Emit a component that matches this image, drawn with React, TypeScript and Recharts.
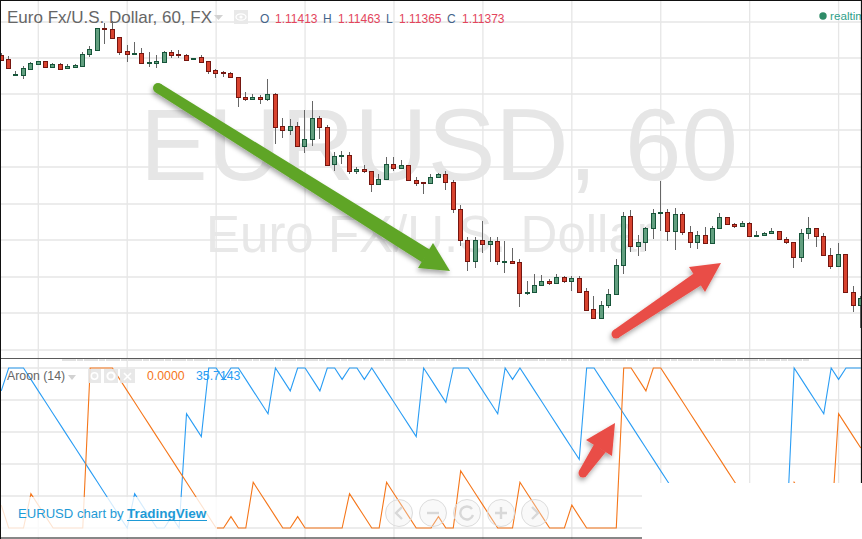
import React from "react";
import { ComposedChart, Bar, Line, XAxis, YAxis, CartesianGrid } from "recharts";

// Prices are in chart points counted downward from the top of the price pane
const opens = [55,59,74,75,69,64,61,67,64,68,67,66,54,50,28,29,37,51,54,53,63,63,62,52,54,55,59,57,61,70,72,73,77,97,99,97,99,94,126,130,126,146,139,118,127,164,156,155,171,169,171,184,179,164,168,165,180,182,183,177,174,182,209,240,261,240,244,241,262,261,262,293,292,285,281,283,277,281,278,291,309,318,305,294,265,216,246,242,228,213,212,231,214,232,242,235,243,228,217,224,226,223,236,235,233,231,239,242,257,233,228,236,255,266,254,292,305];
const closes = [60,68,74,68,63,61,67,64,69,66,65,54,49,28,29,38,52,54,53,63,62,61,52,55,55,60,58,62,71,73,73,77,97,99,97,99,94,127,130,126,146,139,118,127,165,156,155,171,169,171,184,179,164,168,165,180,183,183,177,174,182,209,240,261,240,244,241,261,261,263,293,292,285,281,283,277,281,278,292,310,318,305,294,265,216,246,242,228,213,212,231,214,232,242,235,243,228,217,224,226,223,236,235,233,231,239,242,257,233,228,236,255,266,254,292,305,298];
const highs = [53,56,71,66,62,61,61,63,63,64,64,52,46,28,23,21,37,45,42,48,52,55,51,50,50,54,58,55,61,69,71,72,77,92,94,95,79,93,118,119,122,110,101,116,125,152,151,152,167,165,171,174,157,157,160,165,177,182,174,173,171,180,205,237,237,221,237,237,241,248,259,281,274,275,279,274,276,276,276,288,296,301,289,259,212,210,235,227,209,181,209,208,212,226,231,227,226,213,217,223,221,222,231,232,228,231,237,242,229,217,228,233,248,243,254,286,296];
const lows = [60,69,76,79,69,64,68,68,69,69,68,66,57,51,44,39,55,62,55,63,67,68,62,58,58,61,59,62,74,78,77,77,107,101,99,104,101,144,138,135,147,153,146,139,166,171,164,174,174,173,192,184,179,171,169,180,186,194,183,178,190,213,246,271,268,253,262,265,273,263,307,295,292,286,285,283,283,291,292,311,319,318,308,294,274,252,256,251,239,231,241,250,235,248,249,243,243,228,225,228,226,236,236,236,234,240,244,268,262,239,247,256,269,266,292,312,328];

const aroonUp = [85.71,100,100,100,92.86,85.71,78.57,71.43,64.29,57.14,50,42.86,35.71,28.57,21.43,14.29,7.14,0,21.43,14.29,7.14,0,0,7.14,0,71.43,64.29,57.14,100,100,92.86,100,100,92.86,85.71,78.57,71.43,100,92.86,85.71,100,100,92.86,85.71,100,100,92.86,100,100,92.86,100,92.86,85.71,78.57,71.43,64.29,57.14,100,92.86,85.71,78.57,100,100,100,92.86,85.71,78.57,71.43,100,92.86,100,92.86,85.71,78.57,71.43,64.29,57.14,50,42.86,100,100,92.86,85.71,78.57,71.43,64.29,57.14,50,42.86,35.71,28.57,21.43,14.29,7.14,0,0,0,0,0,0,0,0,0,0,0,0,0,100,92.86,85.71,78.57,71.43,100,92.86,100,100,100];
const aroonDown = [14.29,0,0,0,21.43,14.29,7.14,0,0,0,0,0,100,100,100,100,92.86,85.71,78.57,71.43,64.29,57.14,50,42.86,35.71,28.57,21.43,14.29,7.14,0,0,7.14,0,0,28.57,21.43,14.29,7.14,0,0,7.14,0,0,0,0,0,0,21.43,14.29,7.14,0,0,28.57,21.43,14.29,7.14,0,0,0,7.14,0,0,35.71,28.57,21.43,14.29,7.14,0,0,0,28.57,21.43,14.29,7.14,0,0,0,14.29,7.14,0,0,0,0,0,100,100,92.86,85.71,100,100,92.86,85.71,78.57,71.43,64.29,57.14,50,42.86,35.71,28.57,21.43,14.29,7.14,0,0,0,0,28.57,21.43,14.29,7.14,0,0,71.43,64.29,57.14,50];

const priceGrid = [22,58,94,130,167,204,240,277,313,350];
const aroonGrid = [0,20,40,60,80,100];
const timeGrid = [5,17,29,41,53,65,77,89,101,113];

const candles = opens.map((open, index) => ({
  index, open, close: closes[index], high: highs[index], low: lows[index],
  range: [highs[index], lows[index]],
}));
const aroon = aroonUp.map((up, index) => ({ index, up, down: aroonDown[index] }));

const GRID = "#e6e6e6";
const FONT = "'Liberation Sans', Arial, sans-serif";
const TIME_DOMAIN = [-0.17, 116.16];

function Candle(props: any) {
  const { x, y, width, height, payload } = props;
  if (x == null || y == null) return null;
  const top = Math.min(y, y + height);
  const span = Math.abs(height) || 1;
  const pos = (v: number) => top + ((v - payload.high) / (payload.low - payload.high || 1)) * span;
  const cx = Math.floor(x + width / 2) + 0.5;
  const up = payload.close <= payload.open;
  const bodyTop = Math.round(pos(Math.min(payload.open, payload.close))) + 0.5;
  const bodyBot = Math.round(pos(Math.max(payload.open, payload.close))) + 0.5;
  return (
    <g>
      <line x1={cx} x2={cx} y1={top} y2={top + span} stroke="#666" strokeWidth={1} />
      <rect
        x={cx - 2}
        y={bodyTop}
        width={4}
        height={Math.max(bodyBot - bodyTop, 1)}
        fill={up ? "#629f7f" : "#d8432f"}
        stroke={up ? "#17553a" : "#751610"}
        strokeWidth={1}
      />
    </g>
  );
}

function Arrow({ start, neck, tip, a, b, w0, w1, color }: any) {
  const dx = neck[0] - start[0];
  const dy = neck[1] - start[1];
  const len = Math.hypot(dx, dy);
  const nx = -dy / len;
  const ny = dx / len;
  const shaft = [
    [start[0] + (nx * w0) / 2, start[1] + (ny * w0) / 2],
    [neck[0] + (nx * w1) / 2, neck[1] + (ny * w1) / 2],
    [neck[0] - (nx * w1) / 2, neck[1] - (ny * w1) / 2],
    [start[0] - (nx * w0) / 2, start[1] - (ny * w0) / 2],
  ];
  return (
    <g filter="url(#soft)">
      <circle cx={start[0]} cy={start[1]} r={w0 / 2} fill={color} />
      <polygon points={shaft.join(" ")} fill={color} />
      <polygon points={`${tip} ${a} ${b}`} fill={color} />
    </g>
  );
}

function NavButton({ cx, children }: any) {
  return (
    <g>
      <circle cx={cx} cy={513} r={13.5} fill="rgba(238,238,238,0.35)" stroke="#dcdcdc" strokeWidth={1} />
      <g fill="none" stroke="#d8d8d8" strokeWidth={2.4}>{children}</g>
    </g>
  );
}

export default function App() {
  return (
    <div style={{ position: "absolute", left: 0, top: 0, width: 862, height: 539, overflow: "hidden", background: "#fff" }}>
      <svg width={862} height={539} style={{ position: "absolute", left: 0, top: 0 }}>
        <text x={439} y={180} textAnchor="middle" fontFamily={FONT} fontSize={101.5} fill="#e6e6e6">EURUSD, 60</text>
        <text x={206} y={252} fontFamily={FONT} fontSize={51} fill="#e8e8e8">Euro FX/U.S. Dollar</text>
      </svg>

      <div style={{ position: "absolute", left: 0, top: 0 }}>
        <ComposedChart width={862} height={358} data={candles} margin={{ top: 0, right: 0, bottom: 0, left: 0 }}>
          <CartesianGrid stroke={GRID} strokeWidth={1.3} horizontalValues={priceGrid} verticalValues={timeGrid} />
          <XAxis hide type="number" dataKey="index" domain={TIME_DOMAIN} />
          <YAxis hide reversed domain={[0, 358]} />
          <Bar dataKey="range" barSize={5} shape={<Candle />} isAnimationActive={false} />
        </ComposedChart>
      </div>

      <div style={{ position: "absolute", left: 0, top: 358 }}>
        <ComposedChart width={862} height={181} data={aroon} margin={{ top: 0, right: 0, bottom: 0, left: 0 }}>
          <CartesianGrid stroke={GRID} strokeWidth={1.3} horizontalValues={aroonGrid} verticalValues={timeGrid} />
          <XAxis hide type="number" dataKey="index" domain={TIME_DOMAIN} />
          <YAxis hide domain={[-6.875, 106.25]} />
          <Line type="linear" dataKey="up" stroke="#2a9df4" strokeWidth={1.1} dot={false} isAnimationActive={false} />
          <Line type="linear" dataKey="down" stroke="#f5761a" strokeWidth={1.1} dot={false} isAnimationActive={false} />
        </ComposedChart>
      </div>

      <svg width={862} height={539} style={{ position: "absolute", left: 0, top: 0 }}>
        <defs>
          <filter id="soft" x="-20%" y="-20%" width="140%" height="140%">
            <feDropShadow dx={-1} dy={3} stdDeviation={2.5} floodColor="#000" floodOpacity={0.35} />
          </filter>
        </defs>

        <line x1={0} x2={862} y1={358.5} y2={358.5} stroke="#5a5a5a" strokeWidth={1} />
        <line x1={62} x2={810} y1={360} y2={360} stroke="#c4c4c4" strokeWidth={1} strokeDasharray="14 1 6 1" />

        <rect x={1} y={497} width={216} height={41} fill="#fff" fillOpacity={0.8} />
        <rect x={642} y={483} width={220} height={56} fill="#fff" />

        <Arrow start={[158, 88]} neck={[426, 256]} tip={[450, 271]} a={[418, 268]} b={[433, 243]} w0={10} w1={15} color="#5fa528" />
        <Arrow start={[616, 334]} neck={[698, 279]} tip={[721, 263]} a={[689, 267]} b={[705, 292]} w0={9} w1={14} color="#e94e47" />
        <Arrow start={[583, 473]} neck={[600, 448]} tip={[615, 423]} a={[586, 440]} b={[612, 456]} w0={9} w1={14} color="#e94e47" />

        <text x={7} y={23} fontFamily={FONT} fontSize={17} fill="#666">Euro Fx/U.S. Dollar, 60, FX</text>
        <polygon points="214,15 223,15 218.5,20" fill="#d2d2d2" />
        <rect x={234} y={10} width={14} height={14} fill="#e9e9e9" />
        <ellipse cx={241} cy={17} rx={5} ry={3.2} fill="none" stroke="#fff" strokeWidth={1.3} />
        <circle cx={241} cy={17} r={1.6} fill="#fff" />
        <g fontFamily={FONT} fontSize={12}>
          <text x={260} y={23} fill="#44648a">O</text>
          <text x={275} y={23} fill="#e3455c">1.11413</text>
          <text x={323} y={23} fill="#44648a">H</text>
          <text x={338} y={23} fill="#e3455c">1.11463</text>
          <text x={386} y={23} fill="#44648a">L</text>
          <text x={399} y={23} fill="#e3455c">1.11365</text>
          <text x={447} y={23} fill="#44648a">C</text>
          <text x={462} y={23} fill="#e3455c">1.11373</text>
        </g>
        <circle cx={823} cy={16} r={3.7} fill="#2e8b67" />
        <text x={830} y={20} fontFamily={FONT} fontSize={11.7} fill="#2fa08a">realtim</text>

        <text x={7} y={380} fontFamily={FONT} fontSize={12.3} fill="#666">Aroon (14)</text>
        <polygon points="68,375 76,375 72,380" fill="#d2d2d2" />
        <rect x={88} y={369} width={13} height={14} fill="#e6e6e6" fillOpacity={0.9} />
        <circle cx={94.5} cy={376} r={3.2} fill="none" stroke="#fff" strokeWidth={1.5} />
        <rect x={104} y={369} width={14} height={14} fill="#e6e6e6" fillOpacity={0.9} />
        <circle cx={111} cy={376} r={3.6} fill="none" stroke="#fff" strokeWidth={2} />
        <rect x={120} y={369} width={15} height={14} fill="#e6e6e6" fillOpacity={0.9} />
        <path d="M124 373 L131 380 M131 373 L124 380" stroke="#fff" strokeWidth={1.6} />
        <text x={147} y={380} fontFamily={FONT} fontSize={12.3} fill="#f5761a">0.0000</text>
        <text x={196} y={380} fontFamily={FONT} fontSize={12.3} fill="#2a9df4">35.7143</text>

        <text x={18} y={518} fontFamily={FONT} fontSize={13.1} fill="#1e9ad6">EURUSD chart by</text>
        <text x={127} y={518} fontFamily={FONT} fontSize={13.5} fontWeight="bold" fill="#1e9ad6">TradingView</text>
        <line x1={127} x2={207} y1={520.5} y2={520.5} stroke="#1e9ad6" strokeWidth={1} />

        <NavButton cx={399}><path d="M402 507 L396 513 L402 519" /></NavButton>
        <NavButton cx={433}><path d="M427 513 L439 513" /></NavButton>
        <NavButton cx={467}><path d="M472 509 A6.5 6.5 0 1 0 473 515" /></NavButton>
        <NavButton cx={501}><path d="M495 513 L507 513 M501 507 L501 519" /></NavButton>
        <NavButton cx={535}><path d="M532 507 L538 513 L532 519" /></NavButton>

        <line x1={0} x2={862} y1={0.5} y2={0.5} stroke="#111" strokeWidth={1.2} />
        <line x1={0.5} x2={0.5} y1={0} y2={539} stroke="#111" strokeWidth={1} />
        <line x1={861.5} x2={861.5} y1={0} y2={483} stroke="#111" strokeWidth={1.2} />
        <line x1={0} x2={642} y1={538} y2={538} stroke="#111" strokeWidth={1.2} />
      </svg>
    </div>
  );
}
